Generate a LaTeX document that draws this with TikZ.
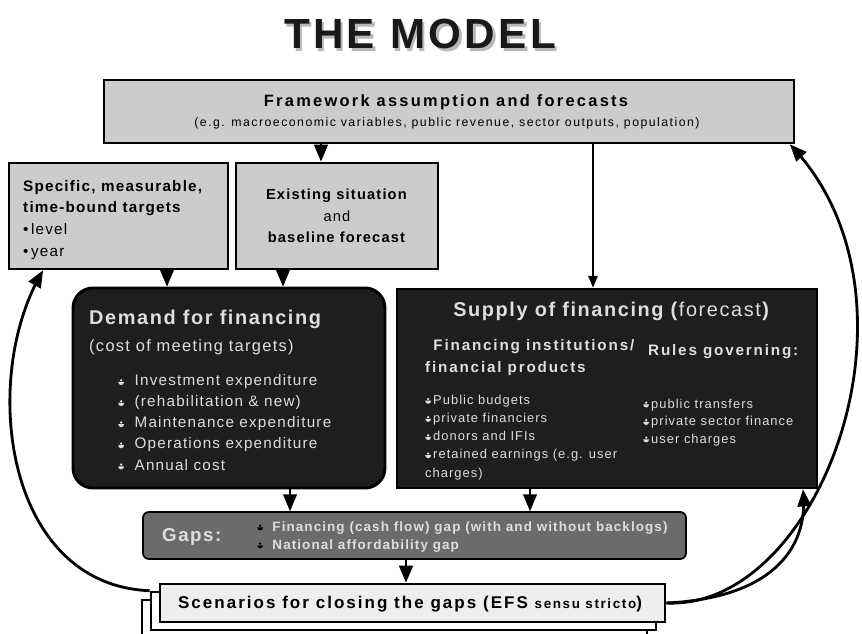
\documentclass[tikz,border=0pt]{standalone}
\usepackage{fontspec}
\setmainfont{Liberation Sans}[LetterSpace=8]
\usepackage{tikz}
\usetikzlibrary{positioning, arrows}

\definecolor{boxgrey}{HTML}{CCCCCC}
\definecolor{boxdark}{HTML}{1E1E1E}
\definecolor{gapgrey}{HTML}{6B6B6B}
\definecolor{scenfill}{HTML}{EEEEEE}
\definecolor{lighttext}{HTML}{DEDEDE}

\newcommand{\cupmark}[1][lighttext]{\tikz[baseline=0pt]{\fill[#1] (0pt,3.2pt) arc (180:360:2.5pt and 2.7pt) -- cycle; \fill[#1] (2.5pt,4.6pt) circle (1.1pt);}}
\newcommand{\wide}[1]{\addfontfeature{LetterSpace=#1}}

\begin{document}
\begin{tikzpicture}[x=0.03cm, y=-0.03cm]
\tikzstyle{greybox}=[draw, line width=2.5pt, fill=boxgrey, inner sep=0pt]
\tikzstyle{darkbox}=[draw, line width=2.5pt, fill=boxdark, inner sep=0pt]
\tikzstyle{link}=[line width=2.4pt, -triangle 45]
\tikzstyle{thinlink}=[line width=1.3pt, -triangle 45]
\tikzstyle{txt}=[inner sep=0pt, anchor=base west, align=left]

\useasboundingbox (0,0) rectangle (862,633);

\node[font=\bfseries\fontsize{36}{40}\selectfont, text=gray!55](titleshade) at (422.5,36.5){THE MODEL};
\node[font=\bfseries\fontsize{36}{40}\selectfont, text=black!90](title) at (420,34){THE MODEL};

\node[greybox, minimum width=20.7cm, minimum height=1.89cm](frame) at (449,111.5){};
\node[font=\bfseries\fontsize{14}{16}\selectfont\wide{14}](frametitle) at (446,102){Framework assumption and forecasts};
\node[font=\fontsize{10.5}{12}\selectfont\wide{12}](framenote) at (447,123){(e.g. macroeconomic variables, public revenue, sector outputs, population)};

\node[greybox, minimum width=6.57cm, minimum height=3.18cm](targets) at (118.5,216){};
\node[txt, font=\fontsize{13}{18.4}\selectfont](targettext) at (23,256){\textbf{Specific, measurable,}\\\textbf{time-bound targets}\\\textbullet\,level\\\textbullet\,year};

\node[greybox, minimum width=6.06cm, minimum height=3.18cm](exist) at (337,216){};
\node[inner sep=0pt, align=center, font=\fontsize{12.5}{18.4}\selectfont](existtext) at (337,216){\textbf{Existing situation}\\and\\\textbf{baseline forecast}};

\node[darkbox, rounded corners=17pt, minimum width=9.36cm, minimum height=6cm](demand) at (229,388){};
\node[txt, text=lighttext, font=\bfseries\fontsize{17}{19}\selectfont](demandtitle) at (89,324){Demand for financing};
\node[txt, text=lighttext, font=\fontsize{14}{16}\selectfont](demandnote) at (89,351){(cost of meeting targets)};
\node[txt, text=lighttext, font=\fontsize{13}{18}\selectfont](demandlist) at (118,470){%
\cupmark\hspace{9pt}Investment expenditure\\
\cupmark\hspace{9pt}(rehabilitation \& new)\\
\cupmark\hspace{9pt}Maintenance expenditure\\
\cupmark\hspace{9pt}Operations expenditure\\
\cupmark\hspace{9pt}Annual cost};

\node[darkbox, minimum width=12.6cm, minimum height=5.97cm](supply) at (607,388.5){};
\node[text=lighttext, font=\fontsize{17}{19}\selectfont](supplytitle) at (612,311){\textbf{Supply of financing (}forecast\textbf{)}};
\node[txt, text=lighttext, font=\bfseries\fontsize{13}{18}\selectfont\wide{12}](insthead) at (425,372){\hspace*{7pt}Financing institutions/\\financial products};
\node[txt, text=lighttext, font=\bfseries\fontsize{13}{18}\selectfont\wide{12}](ruleshead) at (648,355){Rules governing:};
\node[txt, text=lighttext, font=\fontsize{11}{15.5}\selectfont](instlist) at (425,477){%
\cupmark\,Public budgets\\
\cupmark\,private financiers\\
\cupmark\,donors and IFIs\\
\cupmark\,retained earnings (e.g. user\\
charges)};
\node[txt, text=lighttext, font=\fontsize{11}{14.9}\selectfont](ruleslist) at (643,443){%
\cupmark\,public transfers\\
\cupmark\,private sector finance\\
\cupmark\,user charges};

\node[draw, line width=1.5pt, fill=gapgrey, rounded corners=5pt, minimum width=16.29cm, minimum height=1.41cm](gaps) at (414.5,535.5){};
\node[txt, text=lighttext, font=\bfseries\fontsize{16}{18}\selectfont](gapshead) at (162,541){Gaps:};
\node[txt, text=lighttext, font=\bfseries\fontsize{11.5}{15.3}\selectfont](gapslist) at (257,549){%
\cupmark[black]\hspace{8pt}Financing (cash flow) gap (with and without backlogs)\\
\cupmark[black]\hspace{8pt}National affordability gap};

\node[draw, line width=2.2pt, fill=white, minimum width=15.15cm, minimum height=1.14cm](scenback) at (394.5,619){};
\node[draw, line width=2.2pt, fill=white, minimum width=15.15cm, minimum height=1.14cm](scenmid) at (403.5,611){};
\node[draw, line width=2.5pt, fill=scenfill, minimum width=15.15cm, minimum height=1.14cm](scen) at (412.5,603){};
\node[font=\bfseries\fontsize{14.5}{16}\selectfont\wide{12}](scentext) at (410,604){Scenarios for closing the gaps (EFS {\fontsize{11.5}{13}\selectfont sensu stricto})};

\path[draw, link] (frame.south -| 321,0) -- (exist.north -| 321,0);
\path[draw, thinlink] (frame.south -| 593,0) -- (supply.north -| 593,0);
\path[draw, link] (targets.south -| 167,0) -- (demand.north -| 167,0);
\path[draw, link] (exist.south -| 283,0) -- (demand.north -| 283,0);
\path[draw, link] (demand.south -| 290,0) -- (gaps.north -| 290,0);
\path[draw, link] (supply.south -| 530,0) -- (gaps.north -| 530,0);
\path[draw, link] (gaps.south -| 406,0) -- (scen.north -| 406,0);

\path[draw, link] (scenmid.north west) .. controls (5,585) and (-20,380) .. (targets.south -| 43,0);
\path[draw, link] (scen.east) .. controls (820,610) and (935,300) .. (frame.south -| 790,0);
\path[draw, link] (scen.east) .. controls (770,598) and (808,550) .. (supply.south -| 803,0);

\end{tikzpicture}
\end{document}
